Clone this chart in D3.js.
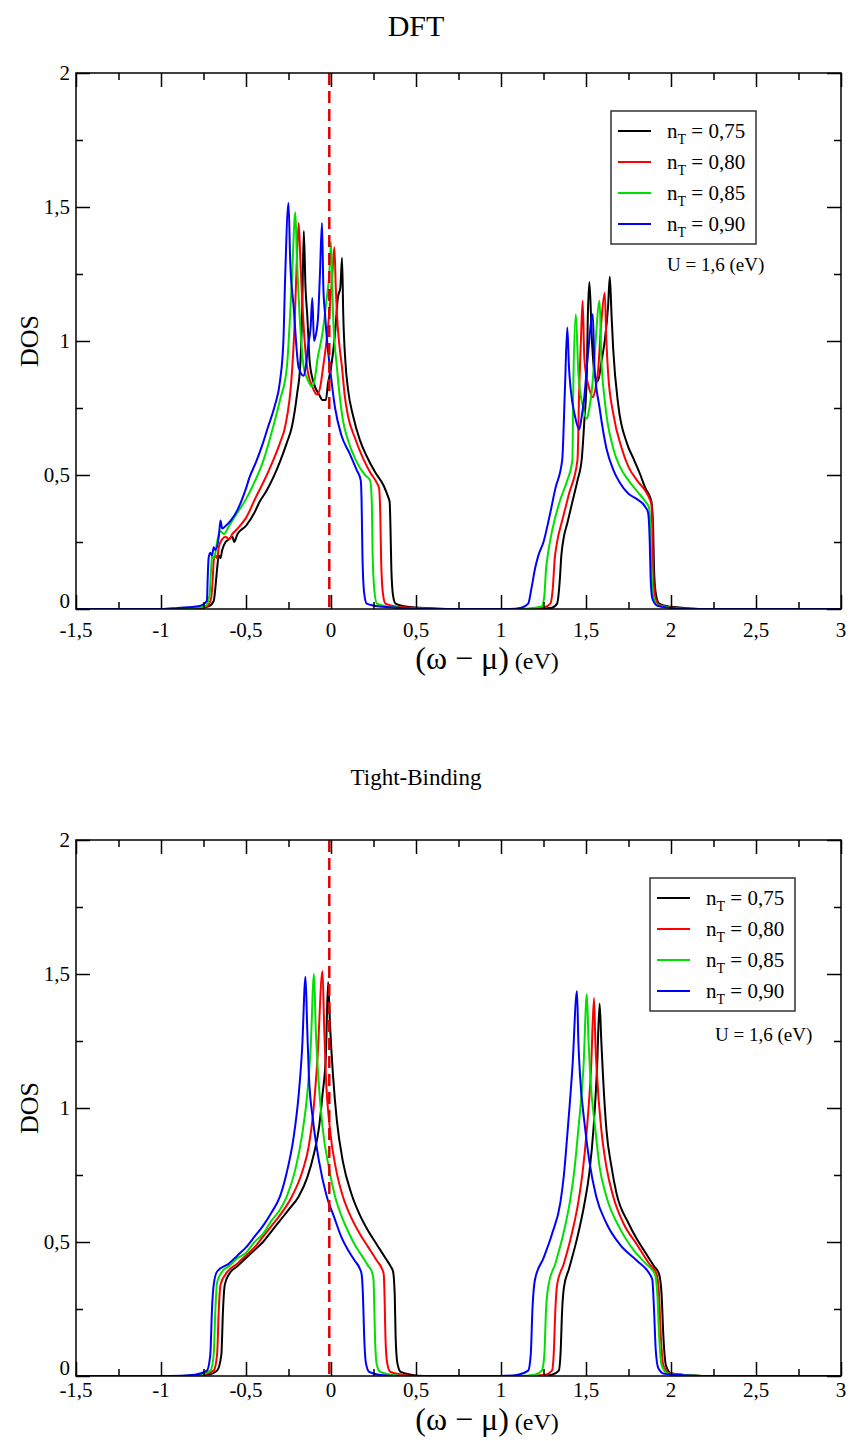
<!DOCTYPE html>
<html><head><meta charset="utf-8">
<script src="https://cdn.jsdelivr.net/npm/d3@7"></script>
<style>body{margin:0;background:#fff}svg{display:block}text{font-family:"Liberation Serif","Times New Roman",serif;fill:#000}</style>
</head><body>
<svg id="chart" width="851" height="1441"></svg>
<script>
// ---------------- DATA ----------------
const seriesLabels = ["0,75", "0,80", "0,85", "0,90"];
const seriesColors = ["#000000", "#ff0000", "#00e000", "#0000ff"];
const xTickValues = [-1.5, -1, -0.5, 0, 0.5, 1, 1.5, 2, 2.5, 3];
const xTickLabels = ["-1,5", "-1", "-0,5", "0", "0,5", "1", "1,5", "2", "2,5", "3"];
const yTickValues = [0, 0.5, 1, 1.5, 2];
const yTickLabels = ["0", "0,5", "1", "1,5", "2"];
const fermiLine = -0.01;
const uLabel = "U = 1,6 (eV)";

// DFT panel, [omega - mu (eV), DOS]
const dft075 = [[-1.5,0],[-0.9,0],[-0.78,0.003],[-0.72,0.01],[-0.69,0.03],[-0.68,0.08],[-0.67,0.15],[-0.66,0.2],[-0.65,0.19],[-0.64,0.22],[-0.62,0.25],[-0.6,0.26],[-0.58,0.27],[-0.57,0.25],[-0.55,0.28],[-0.5,0.31],[-0.45,0.36],[-0.42,0.40],[-0.38,0.44],[-0.34,0.49],[-0.3,0.55],[-0.26,0.62],[-0.23,0.68],[-0.2,0.8],[-0.18,0.92],[-0.17,1.1],[-0.16,1.41],[-0.15,1.2],[-0.14,1.1],[-0.125,0.92],[-0.1,0.84],[-0.07,0.8],[-0.05,0.78],[-0.03,0.78],[-0.018,0.84],[0.0,0.9],[0.024,1.03],[0.04,1.16],[0.055,1.2],[0.065,1.31],[0.072,1.1],[0.085,0.92],[0.1,0.82],[0.13,0.72],[0.17,0.63],[0.21,0.57],[0.26,0.51],[0.31,0.46],[0.335,0.42],[0.345,0.4],[0.35,0.3],[0.355,0.15],[0.365,0.05],[0.38,0.02],[0.45,0.008],[0.55,0.004],[0.7,0],[1.2,0],[1.3,0.005],[1.33,0.02],[1.345,0.1],[1.355,0.2],[1.37,0.27],[1.39,0.32],[1.42,0.4],[1.45,0.48],[1.475,0.56],[1.49,0.7],[1.505,0.88],[1.51,1.07],[1.52,1.22],[1.535,1.0],[1.55,0.88],[1.57,0.85],[1.59,0.92],[1.61,1.0],[1.63,1.13],[1.64,1.24],[1.65,1.1],[1.66,0.97],[1.69,0.76],[1.74,0.62],[1.78,0.56],[1.82,0.5],[1.85,0.45],[1.875,0.42],[1.885,0.4],[1.895,0.3],[1.9,0.15],[1.91,0.06],[1.93,0.02],[2.0,0.008],[2.1,0.003],[2.2,0],[3,0]];
const dft080 = [[-1.5,0],[-0.9,0],[-0.8,0.004],[-0.73,0.01],[-0.705,0.04],[-0.695,0.12],[-0.69,0.18],[-0.68,0.2],[-0.67,0.19],[-0.66,0.23],[-0.64,0.26],[-0.62,0.27],[-0.6,0.26],[-0.58,0.28],[-0.55,0.3],[-0.5,0.34],[-0.44,0.42],[-0.4,0.47],[-0.35,0.54],[-0.3,0.62],[-0.27,0.68],[-0.23,0.88],[-0.215,1.05],[-0.205,1.23],[-0.19,1.44],[-0.18,1.3],[-0.17,1.16],[-0.155,1.0],[-0.14,0.9],[-0.11,0.83],[-0.08,0.8],[-0.06,0.84],[-0.047,0.9],[-0.03,0.98],[-0.018,1.05],[0.006,1.23],[0.02,1.35],[0.028,1.2],[0.035,1.1],[0.05,0.98],[0.065,0.9],[0.08,0.8],[0.1,0.72],[0.14,0.64],[0.19,0.56],[0.23,0.51],[0.27,0.47],[0.283,0.45],[0.29,0.35],[0.295,0.18],[0.305,0.06],[0.32,0.02],[0.4,0.008],[0.5,0.004],[0.65,0],[1.15,0],[1.25,0.005],[1.29,0.02],[1.305,0.08],[1.315,0.18],[1.33,0.25],[1.36,0.33],[1.4,0.43],[1.45,0.556],[1.46,0.82],[1.47,1.0],[1.48,1.15],[1.49,0.94],[1.505,0.86],[1.52,0.82],[1.54,0.79],[1.555,0.82],[1.57,0.88],[1.59,1.07],[1.61,1.18],[1.62,1.0],[1.63,0.88],[1.66,0.73],[1.71,0.6],[1.75,0.53],[1.8,0.48],[1.85,0.44],[1.875,0.41],[1.885,0.39],[1.89,0.3],[1.895,0.15],[1.905,0.05],[1.93,0.015],[2.0,0.006],[2.15,0],[3,0]];
const dft085 = [[-1.5,0],[-0.92,0],[-0.8,0.005],[-0.74,0.01],[-0.715,0.05],[-0.705,0.15],[-0.7,0.2],[-0.69,0.19],[-0.68,0.21],[-0.67,0.25],[-0.66,0.28],[-0.65,0.29],[-0.63,0.28],[-0.6,0.31],[-0.55,0.36],[-0.5,0.41],[-0.46,0.46],[-0.4,0.55],[-0.34,0.68],[-0.3,0.78],[-0.26,0.9],[-0.23,1.23],[-0.21,1.48],[-0.2,1.3],[-0.19,1.16],[-0.16,0.9],[-0.14,0.86],[-0.11,0.83],[-0.095,0.86],[-0.08,0.93],[-0.05,1.03],[-0.025,1.16],[-0.01,1.25],[0.0,1.37],[0.012,1.1],[0.035,0.9],[0.07,0.705],[0.1,0.63],[0.15,0.55],[0.2,0.5],[0.23,0.48],[0.24,0.4],[0.245,0.2],[0.255,0.07],[0.27,0.02],[0.35,0.008],[0.45,0.003],[0.6,0],[1.1,0],[1.2,0.005],[1.24,0.01],[1.255,0.05],[1.265,0.15],[1.275,0.2],[1.3,0.29],[1.35,0.41],[1.39,0.48],[1.42,0.556],[1.425,0.82],[1.44,1.1],[1.455,0.88],[1.48,0.76],[1.505,0.71],[1.52,0.75],[1.535,0.82],[1.55,0.94],[1.58,1.15],[1.59,0.94],[1.61,0.78],[1.66,0.6],[1.7,0.53],[1.75,0.48],[1.8,0.44],[1.85,0.4],[1.87,0.38],[1.88,0.28],[1.885,0.14],[1.895,0.05],[1.92,0.015],[2.0,0.005],[2.12,0],[3,0]];
const dft090 = [[-1.5,0],[-1.0,0],[-0.9,0.004],[-0.78,0.01],[-0.73,0.03],[-0.725,0.12],[-0.72,0.19],[-0.71,0.21],[-0.7,0.2],[-0.69,0.23],[-0.68,0.22],[-0.66,0.27],[-0.65,0.33],[-0.64,0.3],[-0.62,0.31],[-0.59,0.33],[-0.55,0.37],[-0.5,0.45],[-0.48,0.49],[-0.44,0.55],[-0.4,0.62],[-0.37,0.68],[-0.33,0.76],[-0.3,0.85],[-0.28,1.0],[-0.27,1.23],[-0.25,1.515],[-0.24,1.3],[-0.22,1.13],[-0.19,0.9],[-0.16,0.87],[-0.145,0.92],[-0.135,0.98],[-0.12,1.05],[-0.11,1.16],[-0.1,1.0],[-0.09,1.02],[-0.075,1.1],[-0.065,1.25],[-0.053,1.44],[-0.045,1.2],[-0.035,1.1],[-0.02,0.98],[-0.006,0.9],[0.024,0.75],[0.06,0.65],[0.11,0.58],[0.15,0.52],[0.175,0.48],[0.18,0.4],[0.185,0.2],[0.195,0.06],[0.21,0.02],[0.3,0.008],[0.45,0.003],[0.6,0],[1.05,0],[1.12,0.005],[1.16,0.02],[1.18,0.08],[1.2,0.15],[1.22,0.2],[1.25,0.25],[1.28,0.33],[1.32,0.45],[1.36,0.556],[1.376,0.82],[1.39,1.05],[1.4,0.9],[1.41,0.82],[1.435,0.72],[1.46,0.67],[1.475,0.72],[1.49,0.79],[1.51,0.94],[1.54,1.1],[1.55,0.9],[1.58,0.75],[1.62,0.6],[1.66,0.52],[1.7,0.47],[1.75,0.43],[1.8,0.41],[1.85,0.38],[1.865,0.36],[1.875,0.25],[1.88,0.12],[1.89,0.04],[1.92,0.012],[2.0,0.004],[2.1,0],[3,0]];

// Tight-Binding panel
const tb075 = [[-1.5,0],[-0.85,0],[-0.72,0.005],[-0.67,0.02],[-0.645,0.08],[-0.635,0.25],[-0.625,0.34],[-0.6,0.38],[-0.55,0.41],[-0.5,0.44],[-0.45,0.47],[-0.4,0.5],[-0.35,0.54],[-0.3,0.58],[-0.25,0.62],[-0.19,0.67],[-0.14,0.74],[-0.1,0.83],[-0.07,0.93],[-0.05,1.05],[-0.03,1.2],[-0.017,1.47],[-0.005,1.3],[0.012,1.12],[0.035,0.95],[0.07,0.8],[0.12,0.68],[0.17,0.6],[0.22,0.54],[0.27,0.49],[0.32,0.44],[0.35,0.41],[0.365,0.39],[0.375,0.3],[0.38,0.15],[0.39,0.05],[0.41,0.015],[0.47,0.005],[0.55,0],[1.2,0],[1.3,0.005],[1.34,0.02],[1.35,0.08],[1.36,0.25],[1.37,0.33],[1.4,0.4],[1.45,0.52],[1.49,0.64],[1.52,0.76],[1.545,0.93],[1.565,1.15],[1.58,1.39],[1.59,1.25],[1.6,1.12],[1.62,0.92],[1.65,0.78],[1.68,0.68],[1.75,0.57],[1.8,0.51],[1.85,0.46],[1.9,0.41],[1.93,0.38],[1.945,0.3],[1.955,0.15],[1.97,0.04],[2.0,0.01],[2.1,0.003],[2.2,0],[3,0]];
const tb080 = [[-1.5,0],[-0.88,0],[-0.75,0.005],[-0.69,0.02],[-0.67,0.08],[-0.66,0.25],[-0.65,0.34],[-0.62,0.38],[-0.55,0.42],[-0.5,0.45],[-0.45,0.48],[-0.4,0.52],[-0.35,0.56],[-0.3,0.6],[-0.23,0.67],[-0.17,0.76],[-0.13,0.86],[-0.105,0.98],[-0.08,1.18],[-0.05,1.51],[-0.04,1.3],[-0.03,1.12],[-0.006,0.92],[0.03,0.77],[0.07,0.67],[0.12,0.59],[0.17,0.53],[0.22,0.48],[0.27,0.43],[0.3,0.4],[0.31,0.38],[0.315,0.3],[0.32,0.15],[0.33,0.05],[0.35,0.015],[0.42,0.005],[0.5,0],[1.15,0],[1.26,0.005],[1.3,0.02],[1.31,0.08],[1.32,0.25],[1.33,0.34],[1.37,0.42],[1.42,0.54],[1.455,0.65],[1.48,0.76],[1.505,0.92],[1.53,1.15],[1.547,1.41],[1.555,1.25],[1.565,1.12],[1.59,0.92],[1.62,0.78],[1.66,0.67],[1.72,0.57],[1.8,0.49],[1.87,0.42],[1.915,0.38],[1.93,0.3],[1.94,0.15],[1.955,0.04],[1.99,0.01],[2.1,0.003],[2.2,0],[3,0]];
const tb085 = [[-1.5,0],[-0.9,0],[-0.78,0.005],[-0.71,0.02],[-0.69,0.08],[-0.68,0.25],[-0.67,0.35],[-0.64,0.39],[-0.6,0.41],[-0.55,0.44],[-0.5,0.46],[-0.45,0.5],[-0.4,0.53],[-0.35,0.58],[-0.3,0.62],[-0.26,0.67],[-0.21,0.77],[-0.17,0.9],[-0.14,1.05],[-0.12,1.22],[-0.1,1.5],[-0.09,1.3],[-0.075,1.12],[-0.05,0.93],[-0.01,0.77],[0.024,0.67],[0.06,0.6],[0.1,0.54],[0.14,0.49],[0.18,0.45],[0.22,0.41],[0.24,0.39],[0.25,0.36],[0.255,0.25],[0.26,0.12],[0.27,0.04],[0.29,0.015],[0.35,0.005],[0.45,0],[1.1,0],[1.2,0.005],[1.24,0.02],[1.255,0.08],[1.265,0.25],[1.28,0.34],[1.32,0.42],[1.37,0.54],[1.405,0.65],[1.43,0.76],[1.455,0.92],[1.485,1.15],[1.505,1.425],[1.515,1.25],[1.525,1.12],[1.555,0.92],[1.58,0.78],[1.62,0.67],[1.7,0.55],[1.78,0.47],[1.85,0.42],[1.905,0.38],[1.92,0.3],[1.93,0.15],[1.945,0.04],[1.98,0.01],[2.1,0.003],[2.2,0],[3,0]];
const tb090 = [[-1.5,0],[-0.95,0],[-0.8,0.005],[-0.73,0.02],[-0.71,0.08],[-0.7,0.25],[-0.69,0.34],[-0.67,0.39],[-0.6,0.42],[-0.55,0.45],[-0.5,0.48],[-0.45,0.52],[-0.4,0.56],[-0.35,0.61],[-0.3,0.67],[-0.26,0.76],[-0.22,0.89],[-0.19,1.05],[-0.17,1.22],[-0.15,1.49],[-0.14,1.3],[-0.13,1.12],[-0.105,0.95],[-0.07,0.8],[-0.025,0.67],[0.02,0.59],[0.06,0.52],[0.1,0.47],[0.14,0.43],[0.17,0.4],[0.18,0.38],[0.188,0.3],[0.195,0.15],[0.205,0.05],[0.225,0.015],[0.28,0.005],[0.4,0],[1.0,0],[1.1,0.005],[1.16,0.02],[1.175,0.08],[1.185,0.25],[1.2,0.36],[1.25,0.44],[1.3,0.53],[1.35,0.65],[1.37,0.75],[1.39,0.9],[1.42,1.15],[1.447,1.437],[1.455,1.25],[1.465,1.12],[1.49,0.95],[1.52,0.8],[1.56,0.67],[1.62,0.57],[1.7,0.49],[1.8,0.43],[1.87,0.385],[1.89,0.36],[1.9,0.25],[1.91,0.1],[1.925,0.03],[1.96,0.008],[2.1,0.002],[2.2,0],[3,0]];

// ---------------- DRAW ----------------
const svg = d3.select("#chart");
const panels = [
  {title: "DFT", titleY: 36, titleSize: 30, top: 73, bottom: 609, series: [dft075, dft080, dft085, dft090],
   legendX: 611, legendY: 111, uX: 667, uY: 271, xTickY: 637, xLabelY: 669},
  {title: "Tight-Binding", titleY: 785, titleSize: 23, top: 840, bottom: 1376, series: [tb075, tb080, tb085, tb090],
   legendX: 650, legendY: 878, uX: 715, uY: 1041, xTickY: 1397, xLabelY: 1430}
];
const left = 76, right = 841;

panels.forEach(p => {
  const g = svg.append("g");
  const x = d3.scaleLinear().domain([-1.5, 3]).range([left, right]);
  const y = d3.scaleLinear().domain([0, 2]).range([p.bottom, p.top]);

  // title
  g.append("text").attr("x", 416).attr("y", p.titleY).attr("text-anchor", "middle")
    .attr("font-size", p.titleSize).text(p.title);

  // curves (clip to frame)
  const clipId = "clip" + p.top;
  svg.append("clipPath").attr("id", clipId).append("rect")
    .attr("x", left).attr("y", p.top).attr("width", right - left).attr("height", p.bottom - p.top);
  const line = d3.line().x(d => x(d[0])).y(d => y(d[1])).curve(d3.curveMonotoneX);
  g.append("g").attr("clip-path", `url(#${clipId})`).selectAll("path").data(p.series).join("path")
    .attr("d", line).attr("fill", "none").attr("stroke", (d, i) => seriesColors[i])
    .attr("stroke-width", 2).attr("stroke-linejoin", "round");

  // Fermi level dashed line
  g.append("line").attr("x1", x(fermiLine)).attr("x2", x(fermiLine)).attr("y1", y(2)).attr("y2", y(0))
    .attr("stroke", "#e00000").attr("stroke-width", 2.5).attr("stroke-dasharray", "12,6");

  // frame
  g.append("rect").attr("x", left).attr("y", p.top).attr("width", right - left).attr("height", p.bottom - p.top)
    .attr("fill", "none").attr("stroke", "#000").attr("stroke-width", 1.5);

  const maj = 14, mnr = 7;
  const xMinor = d3.range(-1.25, 3, 0.5);
  const xAxisB = d3.axisBottom(x).tickValues(xTickValues).tickSize(-maj).tickFormat("");
  const xAxisBm = d3.axisBottom(x).tickValues(xMinor).tickSize(-mnr).tickFormat("");
  const xAxisT = d3.axisTop(x).tickValues(xTickValues).tickSize(-maj).tickFormat("");
  const xAxisTm = d3.axisTop(x).tickValues(xMinor).tickSize(-mnr).tickFormat("");
  [[xAxisB, p.bottom], [xAxisBm, p.bottom], [xAxisT, p.top], [xAxisTm, p.top]].forEach(([ax, yy]) => {
    const a = g.append("g").attr("transform", `translate(0,${yy})`).call(ax);
    a.select(".domain").remove();
    a.selectAll("line").attr("stroke", "#000").attr("stroke-width", 1.5);
  });
  const yMinor = [0.25, 0.75, 1.25, 1.75];
  const yAxisL = d3.axisLeft(y).tickValues(yTickValues).tickSize(-maj).tickFormat("");
  const yAxisLm = d3.axisLeft(y).tickValues(yMinor).tickSize(-mnr).tickFormat("");
  const yAxisR = d3.axisRight(y).tickValues(yTickValues).tickSize(-maj).tickFormat("");
  const yAxisRm = d3.axisRight(y).tickValues(yMinor).tickSize(-mnr).tickFormat("");
  [[yAxisL, left], [yAxisLm, left], [yAxisR, right], [yAxisRm, right]].forEach(([ax, xx]) => {
    const a = g.append("g").attr("transform", `translate(${xx},0)`).call(ax);
    a.select(".domain").remove();
    a.selectAll("line").attr("stroke", "#000").attr("stroke-width", 1.5);
  });

  // tick labels
  g.selectAll(".xl").data(xTickValues).join("text")
    .attr("x", d => x(d)).attr("y", p.xTickY).attr("text-anchor", "middle").attr("font-size", 21)
    .text((d, i) => xTickLabels[i]);
  g.selectAll(".yl").data(yTickValues).join("text")
    .attr("x", left - 6).attr("y", d => d === 0 ? y(d) - 1 : y(d) + 7).attr("text-anchor", "end").attr("font-size", 21)
    .text((d, i) => yTickLabels[i]);

  // axis labels
  g.append("text").attr("transform", `translate(38,${(p.top + p.bottom) / 2}) rotate(-90)`)
    .attr("text-anchor", "middle").attr("font-size", 26).text("DOS");
  const xl = g.append("text").attr("x", 487).attr("y", p.xLabelY).attr("text-anchor", "middle");
  xl.append("tspan").attr("font-size", 32).text("(ω − μ)");
  xl.append("tspan").attr("font-size", 24).text(" (eV)");

  // legend
  const lg = g.append("g").attr("transform", `translate(${p.legendX},${p.legendY})`);
  lg.append("rect").attr("width", 145).attr("height", 133).attr("fill", "#fff")
    .attr("stroke", "#333").attr("stroke-width", 1.5);
  seriesLabels.forEach((lab, i) => {
    const ry = 20 + i * 31;
    lg.append("line").attr("x1", 7).attr("x2", 40).attr("y1", ry).attr("y2", ry)
      .attr("stroke", seriesColors[i]).attr("stroke-width", 2);
    const t = lg.append("text").attr("x", 56).attr("y", ry + 7).attr("font-size", 21);
    t.append("tspan").text("n");
    t.append("tspan").attr("font-size", 14).attr("dy", 6).text("T");
    t.append("tspan").attr("dy", -6).text(" = " + lab);
  });
  g.append("text").attr("x", p.uX).attr("y", p.uY).attr("font-size", 19).text(uLabel);
});
</script>
</body></html>
